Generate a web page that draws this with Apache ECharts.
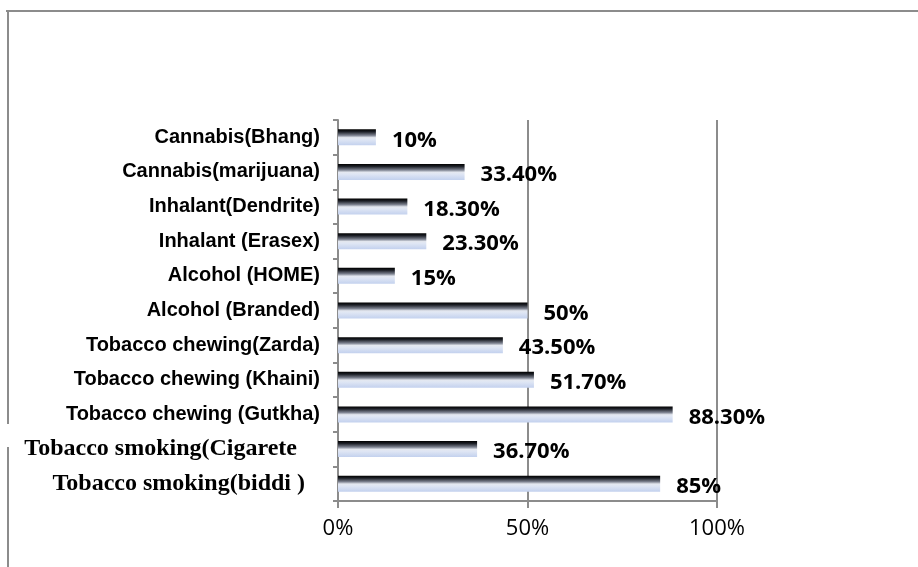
<!DOCTYPE html>
<html>
<head>
<meta charset="utf-8">
<script src="https://cdn.jsdelivr.net/npm/echarts@6/dist/echarts.min.js"></script>
<style>
html, body { margin: 0; padding: 0; background: #fff; }
#chart { width: 918px; height: 567px; }
</style>
</head>
<body>
<div id="chart"></div>
<script>
// categories from bottom to top (echarts draws the first one at the bottom)
const categories = [
  'Tobacco smoking(biddi )',
  'Tobacco smoking(Cigarete',
  'Tobacco chewing (Gutkha)',
  'Tobacco chewing (Khaini)',
  'Tobacco chewing(Zarda)',
  'Alcohol (Branded)',
  'Alcohol (HOME)',
  'Inhalant (Erasex)',
  'Inhalant(Dendrite)',
  'Cannabis(marijuana)',
  'Cannabis(Bhang)'
]
const values = [85, 36.7, 88.3, 51.7, 43.5, 50, 15, 23.3, 18.3, 33.4, 10]
const valueLabels = ['85%', '36.70%', '88.30%', '51.70%', '43.50%', '50%', '15%', '23.30%', '18.30%', '33.40%', '10%']
const xTicks = [0, 50, 100]

const chart = echarts.init(document.getElementById('chart'))

// bar fill: dark top edge fading to pale blue
const barFill = new echarts.graphic.LinearGradient(0, 0, 0, 1, [
  { offset: 0, color: '#000000' },
  { offset: 0.15, color: '#1c1f26' },
  { offset: 0.38, color: '#7d8290' },
  { offset: 0.52, color: '#e4e8f0' },
  { offset: 0.64, color: '#dfe6f4' },
  { offset: 1, color: '#c3d1ee' }
])

const option = {
  backgroundColor: '#fff',
  animation: false,
  grid: { left: 338, right: 201, top: 120, bottom: 66 },
  graphic: [
    // outer chart frame (top and left edges, left edge broken by a label)
    { type: 'line', shape: { x1: 6, y1: 11, x2: 918, y2: 11 }, style: { stroke: '#8c8c8c', lineWidth: 2 } },
    { type: 'line', shape: { x1: 8, y1: 11, x2: 8, y2: 424 }, style: { stroke: '#8c8c8c', lineWidth: 2 } },
    { type: 'line', shape: { x1: 8, y1: 447, x2: 8, y2: 567 }, style: { stroke: '#8c8c8c', lineWidth: 2 } }
  ],
  xAxis: {
    type: 'value',
    min: xTicks[0],
    max: xTicks[xTicks.length - 1],
    interval: 50,
    axisLine: { show: true, lineStyle: { color: '#8c8c8c', width: 2 } },
    axisTick: { show: true, length: 7, lineStyle: { color: '#8c8c8c', width: 2 } },
    axisLabel: {
      formatter: '{value}%',
      fontFamily: 'Open Sans',
      fontSize: 22,
      color: '#000',
      margin: 17
    },
    splitLine: { show: true, lineStyle: { color: '#8c8c8c', width: 2 } }
  },
  yAxis: {
    type: 'category',
    data: categories,
    axisLine: { show: true, lineStyle: { color: '#8c8c8c', width: 2 } },
    axisTick: { show: true, length: 5, lineStyle: { color: '#8c8c8c', width: 2 } },
    axisLabel: {
      margin: 12,
      formatter: function (v) {
        if (v.indexOf('smoking') >= 0) {
          return v.indexOf('Cigarete') >= 0 ? '{c|' + v + '}' : '{b|' + v + '}'
        }
        return '{a|' + v + '}'
      },
      rich: {
        a: { fontFamily: 'Liberation Sans', fontWeight: 'bold', fontSize: 20, color: '#000', padding: [0, 6, 0, 0] },
        b: { fontFamily: 'Liberation Serif', fontWeight: 'bold', fontSize: 24, color: '#000', padding: [0, 21, 0, 0] },
        c: { fontFamily: 'Liberation Serif', fontWeight: 'bold', fontSize: 24, color: '#000', padding: [0, 29, 0, 0], backgroundColor: '#fff' }
      }
    }
  },
  series: [
    {
      type: 'bar',
      data: values,
      barWidth: 16,
      itemStyle: { color: barFill },
      label: {
        show: true,
        position: 'right',
        distance: 16,
        formatter: function (p) { return valueLabels[p.dataIndex] },
        fontFamily: 'Open Sans',
        fontWeight: 'bold',
        fontSize: 22,
        color: '#000',
        offset: [0, 3]
      }
    }
  ]
}

chart.setOption(option)
window.addEventListener('resize', () => {
  chart.resize()
})
</script>
</body>
</html>
